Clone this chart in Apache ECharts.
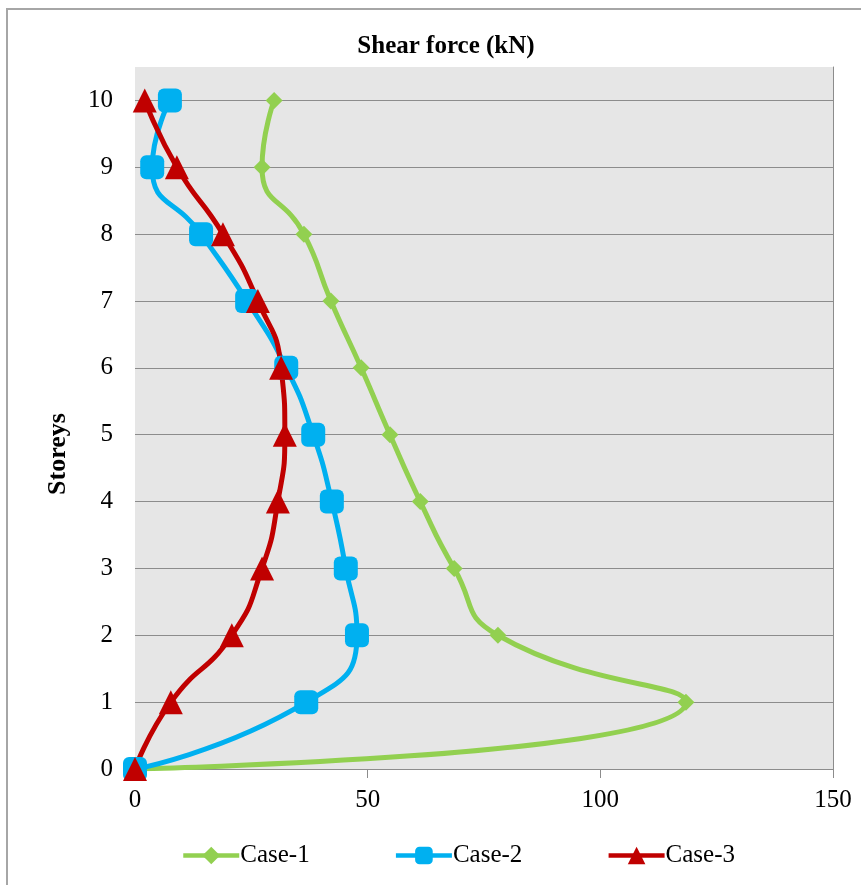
<!DOCTYPE html>
<html><head><meta charset="utf-8">
<script src="https://cdn.jsdelivr.net/npm/echarts@6/dist/echarts.min.js"></script>
<style>
html,body{margin:0;padding:0;background:#fff;}
#frame{position:absolute;left:6px;top:8px;width:900px;height:900px;border-top:2px solid #a6a6a6;border-left:2px solid #a6a6a6;}
#c{position:absolute;left:0;top:0;width:861px;height:885px;}
</style></head>
<body>
<div id="frame"></div>
<div id="c"></div>
<script>
const storeys = [0,1,2,3,4,5,6,7,8,9,10];
const case1 = [0,118.4,78.0,68.6,61.3,54.8,48.6,42.1,36.3,27.3,29.9];
const case2 = [0,36.8,47.7,45.3,42.3,38.3,32.5,24.1,14.2,3.7,7.5];
const case3 = [0,7.7,20.8,27.3,30.7,32.2,31.4,26.4,18.9,9.0,2.1];
const seriesNames = ['Case-1','Case-2','Case-3'];
const xTicks = [0,50,100,150];

const font = '"Liberation Serif","Times New Roman",serif';
const chart = echarts.init(document.getElementById('c'));
function pts(v){ return storeys.map((s,i)=>[v[i], s]); }
const gridCols = storeys.map(()=> '#8c8c8c'); gridCols.push('rgba(0,0,0,0)');
chart.setOption({
  animation:false,
  backgroundColor:'transparent',
  title:{text:'Shear force (kN)', left:441, top:29, textAlign:'center',
    textStyle:{fontFamily:font,fontSize:25,fontWeight:'bold',color:'#000'}},
  grid:{left:135,right:28,top:67,bottom:116,show:true,backgroundColor:'#e6e6e6',borderWidth:0},
  legend:{top:838,left:176,itemWidth:56,itemHeight:22,itemGap:84,
    data:seriesNames,
    lineStyle:{width:4.5},
    textStyle:{fontFamily:font,fontSize:25,color:'#000',padding:[0,0,0,-4]}},
  xAxis:{type:'value',min:xTicks[0],max:xTicks[xTicks.length-1],interval:50,
    axisLine:{show:true,lineStyle:{color:'#8c8c8c',width:1}},
    axisTick:{show:true,length:9,lineStyle:{color:'#8c8c8c'}},
    splitLine:{show:false},
    axisLabel:{fontFamily:font,fontSize:25,color:'#000',margin:19}},
  yAxis:[{type:'value',min:0,max:10.5,interval:1,
    name:'Storeys',nameLocation:'middle',nameGap:64,nameRotate:90,
    nameTextStyle:{fontFamily:font,fontSize:26,fontWeight:'bold',color:'#000',padding:[0,72,0,0]},
    axisLine:{show:false},axisTick:{show:false},
    splitLine:{show:true,lineStyle:{color:gridCols,width:1}},
    axisLabel:{fontFamily:font,fontSize:25,color:'#000',margin:22,showMaxLabel:false}},
    {type:'value',min:0,max:10.5,position:'right',axisLine:{show:true,lineStyle:{color:'#8c8c8c'}},
     axisTick:{show:false},axisLabel:{show:false},splitLine:{show:false}}],
  series:[
    {name:seriesNames[0],type:'line',data:pts(case1),smooth:0.55,symbol:'diamond',symbolSize:17,
     lineStyle:{width:5,color:'#92d050'},itemStyle:{color:'#92d050'}},
    {name:seriesNames[1],type:'line',data:pts(case2),smooth:0.55,symbol:'roundRect',symbolSize:24,
     lineStyle:{width:5,color:'#00b0f0'},itemStyle:{color:'#00b0f0'}},
    {name:seriesNames[2],type:'line',data:pts(case3),smooth:0.55,symbol:'triangle',symbolSize:24,
     lineStyle:{width:5,color:'#c00000'},itemStyle:{color:'#c00000'}}
  ]
});
</script>
</body></html>
